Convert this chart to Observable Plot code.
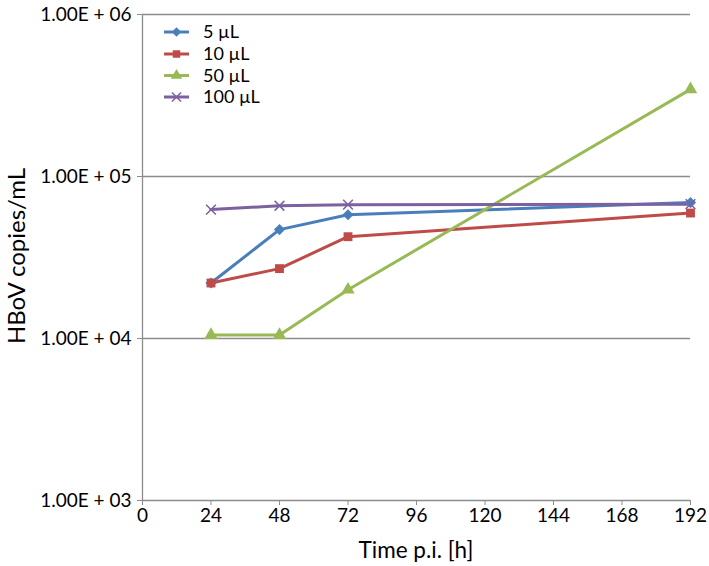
<!DOCTYPE html>
<html>
<head>
<meta charset="utf-8">
<script src="https://cdn.jsdelivr.net/npm/d3@7"></script>
<script src="https://cdn.jsdelivr.net/npm/@observablehq/plot@0.6"></script>
<style>
  html, body { margin: 0; padding: 0; background: #fff; }
  #chart { width: 709px; height: 566px; }
</style>
</head>
<body>
<div id="chart"></div>
<script>
// Data
const times = [24, 48, 72, 192];
const series = ["5 µL", "10 µL", "50 µL", "100 µL"];
const v5 = [22000, 47000, 58000, 69000];
const v10 = [22000, 27000, 42500, 59500];
const v50 = [10500, 10500, 20000, 345000];
const v100 = [62500, 66000, 67000, 67500];
const xTicks = [0, 24, 48, 72, 96, 120, 144, 168, 192];
const yTicks = [1e3, 1e4, 1e5, 1e6];
const colors = ["#4a7ebb", "#be4b48", "#98b954", "#7d60a0"];
const symbols = ["diamond2", "square", "triangle", "times"];

const valuesBySeries = [v5, v10, v50, v100];
const data = [];
series.forEach((s, i) => times.forEach((t, j) => data.push({series: s, t, v: valuesBySeries[i][j]})));

const W = 709, H = 566;
const mL = 142, mR = 19, mT = 14, mB = 66;
const font = "Lato, 'Open Sans', sans-serif";

const fmt = d => "1.00E + " + String(Math.round(Math.log10(d))).padStart(2, "0");

const plot = Plot.plot({
  width: W, height: H,
  marginLeft: mL, marginRight: mR, marginTop: mT, marginBottom: mB,
  style: {fontFamily: font, fontSize: "19px", color: "#000", background: "#fff", overflow: "visible"},
  x: {domain: [0, 192], ticks: xTicks, label: null},
  y: {type: "log", domain: [1e3, 1e6], ticks: yTicks, label: null},
  color: {domain: series, range: colors},
  symbol: {domain: series, range: symbols},
  marks: [
    Plot.ruleY(yTicks.filter(d => d > 1e3), {stroke: "#8c8c8c", strokeWidth: 1.3}),
    Plot.ruleX([0], {stroke: "#8c8c8c", strokeWidth: 1.3}),
    Plot.ruleY([1e3], {stroke: "#8c8c8c", strokeWidth: 1.3}),
    Plot.axisX({ticks: xTicks, tickSize: 5, stroke: "#8c8c8c", fill: "#000", fontSize: 19, tickPadding: 3, tickFormat: d => String(d), label: null}),
    Plot.axisY({ticks: yTicks, tickSize: 5, stroke: "#8c8c8c", fill: "#000", fontSize: 19, tickPadding: 6, tickFormat: fmt, label: null}),
    Plot.line(data, {x: "t", y: "v", z: "series", stroke: "series", strokeWidth: 3}),
    Plot.dot(data.filter(d => d.series !== "100 µL"), {x: "t", y: "v", symbol: "series", fill: "series", stroke: "none", r: 5}),
    Plot.dot(data.filter(d => d.series === "100 µL"), {x: "t", y: "v", symbol: "series", stroke: "series", fill: "none", r: 4.5, strokeWidth: 1.5})
  ]
});

document.getElementById("chart").appendChild(plot);

// Axis titles and legend
const svg = d3.select(plot);
svg.append("text")
  .attr("x", 416).attr("y", 558)
  .attr("text-anchor", "middle")
  .attr("font-family", font).attr("font-size", 22.5).attr("fill", "#000")
  .style("font-size", "22.5px")
  .text("Time p.i. [h]");
svg.append("text")
  .attr("transform", `translate(25, 256) rotate(-90)`)
  .attr("text-anchor", "middle")
  .attr("font-family", font).attr("font-size", 24).attr("fill", "#000")
  .style("font-size", "24px")
  .text("HBoV copies/mL");

const legY = [32, 54, 75.5, 97];
const symGen = {
  "diamond2": d3.symbolDiamond2, "square": d3.symbolSquare, "triangle": d3.symbolTriangle, "times": d3.symbolTimes
};
series.forEach((s, i) => {
  const g = svg.append("g").attr("transform", `translate(0, ${legY[i]})`);
  g.append("line").attr("x1", 164).attr("x2", 189).attr("y1", 0).attr("y2", 0)
    .attr("stroke", colors[i]).attr("stroke-width", 3);
  const isStroke = symbols[i] === "times";
  g.append("path").attr("transform", "translate(176.5,0)")
    .attr("d", d3.symbol(symGen[symbols[i]], 56)())
    .attr("fill", isStroke ? "none" : colors[i])
    .attr("stroke", isStroke ? colors[i] : "none").attr("stroke-width", 1.5);
  g.append("text").attr("x", 203).attr("y", 0).attr("dy", "0.35em")
    .attr("text-anchor", "start")
    .attr("font-family", font).attr("font-size", 18).style("font-size", "18px").attr("fill", "#000")
    .text(s);
});
</script>
</body>
</html>
